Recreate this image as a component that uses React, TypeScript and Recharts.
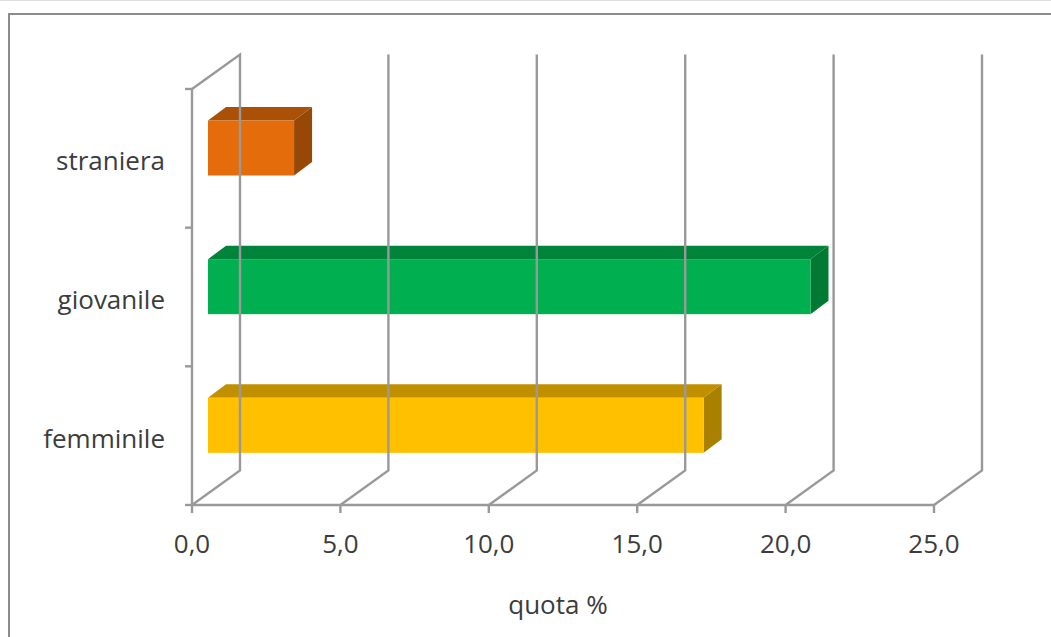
import React from 'react';
import { BarChart, Bar, XAxis, YAxis, ReferenceLine } from 'recharts';

// Quota % per categoria
const categories = ['straniera', 'giovanile', 'femminile'];
const quota = [2.9, 20.3, 16.7];
const xTicks = [0, 5, 10, 15, 20, 25];

const data = categories.map((categoria, i) => ({ categoria, quota: quota[i] }));

// Face colours for each box: front, top, side
const FRONT = ['#E46C0A', '#00B050', '#FFC000'];
const TOP = ['#AA5007', '#00843C', '#C09000'];
const SIDE = ['#974806', '#007A33', '#A98000'];

const W = 1051;
const H = 637;
const PLOT_LEFT = 192;
const PLOT_TOP = 88;
const PLOT_RIGHT = 934;
const PLOT_BOTTOM = 504;

// Oblique depth of the walls/floor
const WALL_DX = 48;
const WALL_DY = -34.5;
// Where the box front sits inside the depth, and how deep the box is
const FRONT_DX = 16;
const FRONT_DY = -10.5;
const BOX_DX = 18;
const BOX_DY = -13.5;

const GRID = '#999999';
const GRID_W = 2.4;
const TEXT = '#3c3c3c';
const FONT = '"Open Sans", sans-serif';
const FONT_SIZE = 26;

const band = (PLOT_BOTTOM - PLOT_TOP) / categories.length;

const WallLine = (props: any) => {
  const { x1, y1, y2, isLeft } = props;
  const top = Math.min(y1, y2);
  const bottom = Math.max(y1, y2);
  const bx = x1 + WALL_DX;
  const pts = [
    [x1, bottom],
    [bx, bottom + WALL_DY],
    [bx, top + WALL_DY],
  ];
  if (isLeft) pts.push([x1, top]);
  return (
    <polyline
      points={pts.map((p) => p.join(',')).join(' ')}
      fill="none"
      stroke={GRID}
      strokeWidth={GRID_W}
    />
  );
};

const Box = (props: any) => {
  const { x, y, width, height, index } = props;
  const fx = x + FRONT_DX;
  const fy = y + FRONT_DY;
  const top = [
    [fx, fy],
    [fx + BOX_DX, fy + BOX_DY],
    [fx + width + BOX_DX, fy + BOX_DY],
    [fx + width, fy],
  ];
  const side = [
    [fx + width, fy],
    [fx + width + BOX_DX, fy + BOX_DY],
    [fx + width + BOX_DX, fy + height + BOX_DY],
    [fx + width, fy + height],
  ];
  const s = (p: number[][]) => p.map((q) => q.join(',')).join(' ');
  return (
    <g>
      <polygon points={s(top)} fill={TOP[index]} />
      <polygon points={s(side)} fill={SIDE[index]} />
      <rect x={fx} y={fy} width={width} height={height} fill={FRONT[index]} />
    </g>
  );
};

const CategoryTick = (props: any) => {
  const { y, payload, index } = props;
  const yTop = y - band / 2;
  const yBottom = y + band / 2;
  return (
    <g>
      <line x1={PLOT_LEFT - 7} x2={PLOT_LEFT} y1={yTop} y2={yTop} stroke={GRID} strokeWidth={GRID_W} />
      {index === categories.length - 1 && (
        <line x1={PLOT_LEFT - 7} x2={PLOT_LEFT} y1={yBottom} y2={yBottom} stroke={GRID} strokeWidth={GRID_W} />
      )}
      <text
        x={PLOT_LEFT - 27}
        y={y + 2}
        textAnchor="end"
        dominantBaseline="central"
        fill={TEXT}
        fontSize={FONT_SIZE}
        fontFamily={FONT}
      >
        {payload.value}
      </text>
    </g>
  );
};

const ValueTick = (props: any) => {
  const { x, payload } = props;
  return (
    <g>
      <line x1={x} x2={x} y1={PLOT_BOTTOM} y2={PLOT_BOTTOM + 8} stroke={GRID} strokeWidth={GRID_W} />
      <text
        x={x}
        y={PLOT_BOTTOM + 38}
        textAnchor="middle"
        dominantBaseline="central"
        fill={TEXT}
        fontSize={FONT_SIZE}
        fontFamily={FONT}
      >
        {payload.value.toFixed(1).replace('.', ',')}
      </text>
    </g>
  );
};

const AxisTitle = (props: any) => {
  const { viewBox } = props;
  return (
    <text
      x={viewBox.x + viewBox.width / 2 - 5}
      y={PLOT_BOTTOM + 99}
      textAnchor="middle"
      dominantBaseline="central"
      fill={TEXT}
      fontSize={FONT_SIZE}
      fontFamily={FONT}
    >
      quota %
    </text>
  );
};

export default function App() {
  return (
    <div
      style={{
        position: 'absolute',
        left: 0,
        top: 0,
        width: W,
        height: H,
        overflow: 'hidden',
        background: '#fff',
        borderTop: '1px solid #dcdcdc',
        boxSizing: 'border-box',
        fontFamily: FONT,
      }}
    >
      <div
        style={{
          position: 'absolute',
          left: 8,
          top: 12,
          width: 1100,
          height: 700,
          border: '2px solid #8c8c8c',
        }}
      />
      <div style={{ position: 'absolute', left: 0, top: 0 }}>
        <BarChart
          width={W}
          height={H}
          data={data}
          layout="vertical"
          barSize={55}
          margin={{ top: PLOT_TOP, right: W - PLOT_RIGHT, bottom: 33, left: 0 }}
        >
          <XAxis
            type="number"
            dataKey="quota"
            domain={[0, 25]}
            ticks={xTicks}
            height={100}
            axisLine={{ stroke: GRID, strokeWidth: GRID_W }}
            tickLine={false}
            tick={<ValueTick />}
            label={<AxisTitle />}
            interval={0}
          />
          <YAxis
            type="category"
            dataKey="categoria"
            width={PLOT_LEFT}
            axisLine={{ stroke: GRID, strokeWidth: GRID_W }}
            tickLine={false}
            tick={<CategoryTick />}
            interval={0}
          />
          {xTicks.map((t) => (
            <ReferenceLine
              key={t}
              x={t}
              ifOverflow="visible"
              shape={(p: any) => <WallLine {...p} isLeft={t === 0} />}
            />
          ))}
          <Bar dataKey="quota" isAnimationActive={false} shape={<Box />} />
        </BarChart>
      </div>
    </div>
  );
}
